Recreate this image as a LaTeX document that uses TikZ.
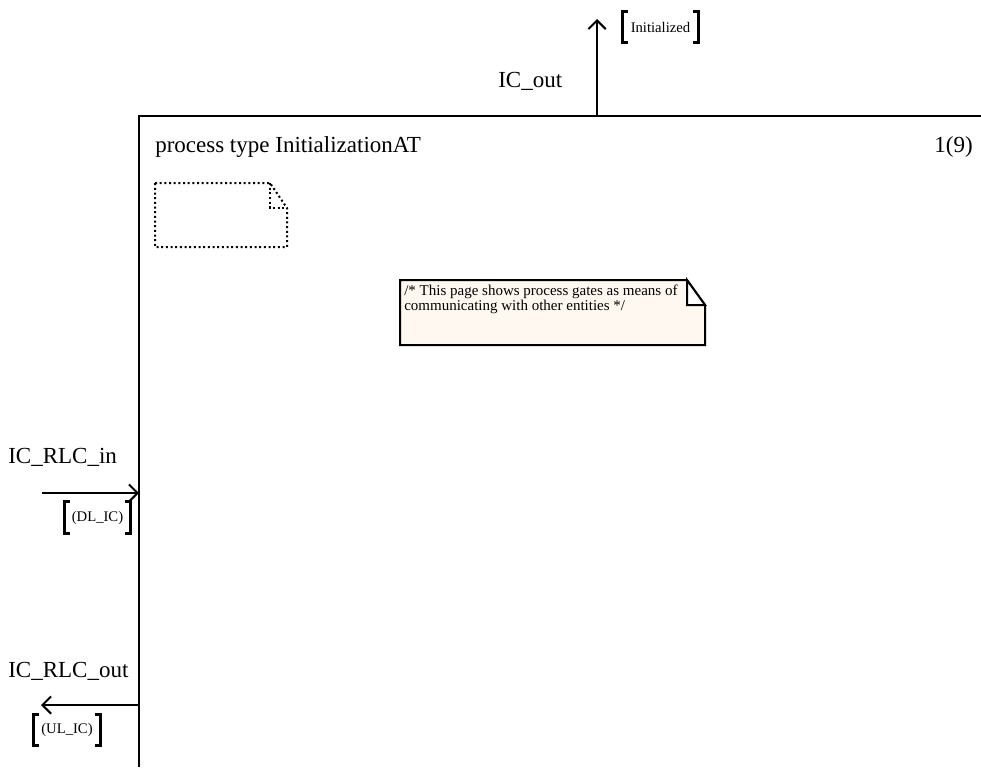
\documentclass[tikz,border=0pt]{standalone}
\usepackage{fontspec}
\setmainfont{Liberation Serif}
\usetikzlibrary{arrows.meta}
\definecolor{notefill}{RGB}{255,248,240}
\begin{document}
\begin{tikzpicture}[x=0.75pt,y=-0.75pt,
  frameline/.style={line width=1.6pt},
  gateline/.style={line width=1.5pt, -{Straight Barb[length=6.5pt,width=13pt,line width=1.5pt]}},
  lbl/.style={font=\fontsize{17.25}{20}\selectfont, inner sep=0pt, anchor=base west},
  brk/.style={font=\fontsize{11}{13}\selectfont, inner sep=0pt},
  brkline/.style={line width=2.1pt},
  cmt/.style={font=\fontsize{11.25}{11.3}\selectfont, inner sep=0pt, anchor=north west, align=left}
]
\useasboundingbox (0,0) rectangle (981,767);

% frame
\coordinate (ftr) at (981,116);
\coordinate (ftl) at (139,116);
\coordinate (fbl) at (139,767);
\draw[frameline] (ftr) -- (ftl) -- (fbl);

\node[lbl] (title) at (155,152) {process type InitializationAT};
\node[lbl, anchor=base east] (page) at (973,152) {1(9)};

% dotted note
\draw[line width=1.5pt, dotted] (155,183) -- (270,183) -- (287,208) -- (287,247) -- (155,247) -- cycle;
\draw[line width=1.5pt, dotted] (270,183) -- (270,208) -- (287,208);

% comment
\draw[line width=1.5pt, fill=notefill] (400,280) -- (687,280) -- (705,305) -- (705,345) -- (400,345) -- cycle;
\draw[line width=1.5pt, fill=white] (687,280) -- (687,305) -- (705,305) -- cycle;
\node[cmt] (comment) at (404,285) {/* This page shows process gates as means of\\communicating with other entities */};

% top gate
\coordinate (gtop) at (597,116);
\coordinate (gtopend) at (597,19);
\draw[gateline] (gtop) -- (gtopend);
\node[lbl] (icout) at (498,88) {IC\_out};
\node[brk, minimum width=56.25pt, minimum height=22.5pt] (binit) at (660.5,27) {Initialized};

% IC_RLC_in
\coordinate (inS) at (42,493);
\coordinate (inE) at (139,493);
\draw[gateline] (inS) -- (inE);
\node[lbl] (icin) at (8,463) {IC\_RLC\_in};
\node[brk, minimum width=48.75pt, minimum height=23.25pt] (bdl) at (97.5,517.5) {(DL\_IC)};

% IC_RLC_out
\coordinate (outS) at (139,705);
\coordinate (outE) at (41,705);
\draw[gateline] (outS) -- (outE);
\node[lbl] (icrout) at (8,677) {IC\_RLC\_out};
\node[brk, minimum width=49.5pt, minimum height=22.5pt] (bul) at (67,730) {(UL\_IC)};

% brackets
\foreach \b in {binit,bdl,bul}{
  \draw[brkline] ([xshift=4pt]\b.north west) -- (\b.north west) -- (\b.south west) -- ([xshift=4pt]\b.south west);
  \draw[brkline] ([xshift=-4pt]\b.north east) -- (\b.north east) -- (\b.south east) -- ([xshift=-4pt]\b.south east);
}
\end{tikzpicture}
\end{document}
